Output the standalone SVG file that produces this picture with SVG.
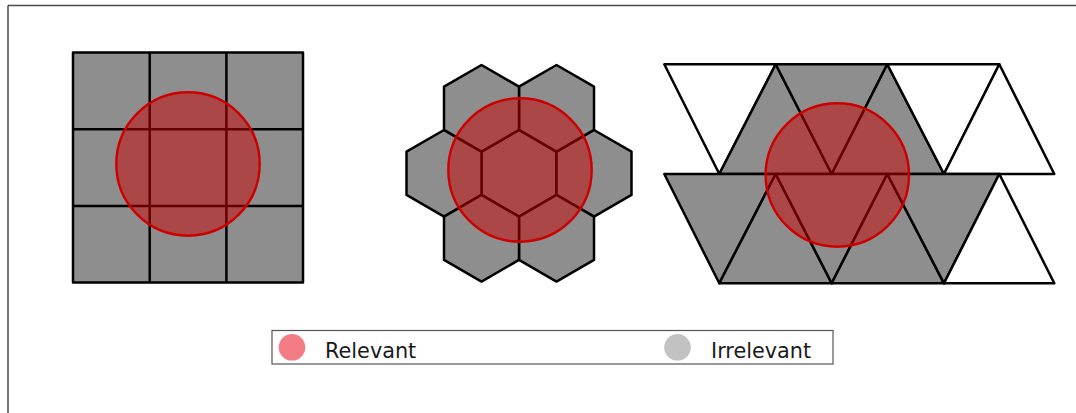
<svg xmlns="http://www.w3.org/2000/svg" xmlns:xlink="http://www.w3.org/1999/xlink" width="1076" height="413" viewBox="0 0 1076 413">
  <style>
    .tile { fill: #8e8e8e; stroke: #000; stroke-width: 2.5; stroke-linejoin: round; }
    .empty { fill: #fff; stroke: #000; stroke-width: 2.5; stroke-linejoin: round; }
    .range { fill: #c80000; fill-opacity: 0.5; stroke: #cc0000; stroke-width: 2.4; }
    .frame { stroke: #4a4a4a; stroke-width: 1.5; fill: none; }
    .label { font-family: "DejaVu Sans", sans-serif; font-size: 20.8px; fill: #1a1a1a; }
  </style>
  <defs>
    <polygon id="hex" points="0,-43.3 37.5,-21.65 37.5,21.65 0,43.3 -37.5,21.65 -37.5,-21.65"/>
  </defs>
  <rect width="1076" height="413" fill="#fff"/>
  <g id="frame">
    <line class="frame" x1="8" y1="5.5" x2="1076" y2="5.5"/>
    <line class="frame" x1="8" y1="5.5" x2="8" y2="413"/>
  </g>

  <g id="square-grid">
    <rect class="tile" x="73" y="52.5" width="230" height="230"/>
    <line class="tile" x1="149.7" y1="52.5" x2="149.7" y2="282.5"/>
    <line class="tile" x1="226.4" y1="52.5" x2="226.4" y2="282.5"/>
    <line class="tile" x1="73" y1="129.2" x2="303" y2="129.2"/>
    <line class="tile" x1="73" y1="205.9" x2="303" y2="205.9"/>
    <circle class="range" cx="188" cy="164" r="71.7"/>
  </g>

  <g id="hex-grid">
    <use xlink:href="#hex" class="tile" transform="translate(519,173.3)"/>
    <use xlink:href="#hex" class="tile" transform="translate(594,173.3)"/>
    <use xlink:href="#hex" class="tile" transform="translate(444,173.3)"/>
    <use xlink:href="#hex" class="tile" transform="translate(556.5,108.3)"/>
    <use xlink:href="#hex" class="tile" transform="translate(481.5,108.3)"/>
    <use xlink:href="#hex" class="tile" transform="translate(556.5,238.3)"/>
    <use xlink:href="#hex" class="tile" transform="translate(481.5,238.3)"/>
    <circle class="range" cx="520" cy="170" r="71.7"/>
  </g>

  <g id="triangle-grid">
    <polygon class="empty" points="664.3,64.3 775.7,64.3 719.3,174"/>
    <polygon class="tile" points="719.3,174 775.7,64.3 831.7,174"/>
    <polygon class="tile" points="775.7,64.3 887.3,64.3 831.7,174"/>
    <polygon class="tile" points="831.7,174 887.3,64.3 944,174"/>
    <polygon class="empty" points="887.3,64.3 999.3,64.3 944,174"/>
    <polygon class="empty" points="944,174 999.3,64.3 1054.3,174"/>
    <polygon class="tile" points="664.3,174 775.7,174 719.3,283.3"/>
    <polygon class="tile" points="719.3,283.3 775.7,174 831.7,283.3"/>
    <polygon class="tile" points="775.7,174 887.3,174 831.7,283.3"/>
    <polygon class="tile" points="831.7,283.3 887.3,174 944,283.3"/>
    <polygon class="tile" points="887.3,174 999.3,174 944,283.3"/>
    <polygon class="empty" points="944,283.3 999.3,174 1054.3,283.3"/>
    <circle class="range" cx="837.3" cy="175" r="71.7"/>
  </g>

  <g id="legend">
    <rect x="272" y="330.5" width="561" height="33.5" fill="#fff" stroke="#555" stroke-width="1.2"/>
    <circle cx="292" cy="347.3" r="13.3" fill="#f47c84"/>
    <text class="label" x="325" y="357.5">Relevant</text>
    <circle cx="677.5" cy="347.3" r="13.3" fill="#c2c2c2"/>
    <text class="label" x="711" y="357.5">Irrelevant</text>
  </g>
</svg>
